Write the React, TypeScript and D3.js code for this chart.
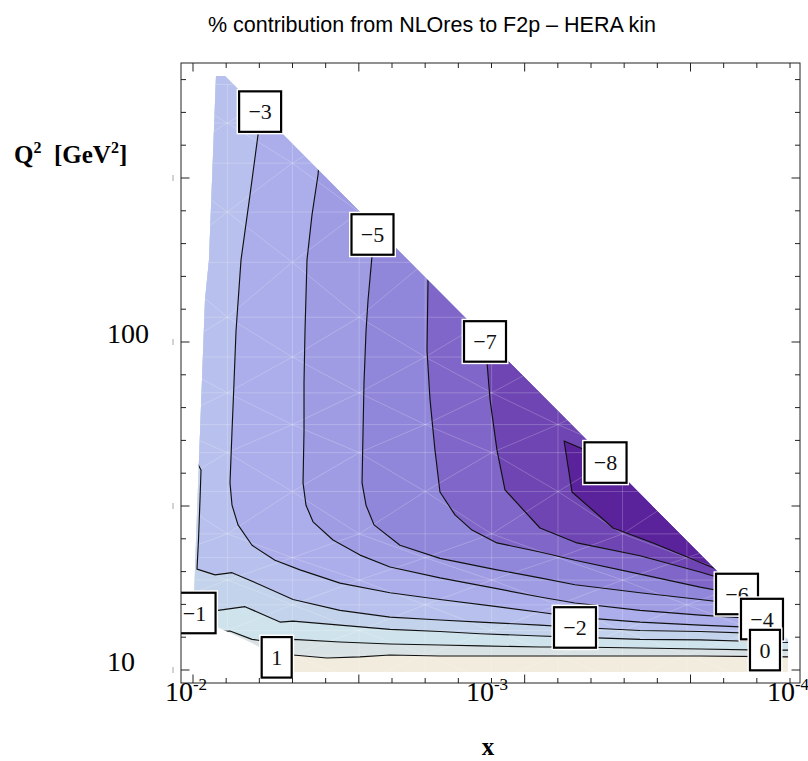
import React from 'react';
import * as d3 from 'd3';

// ---------- data ----------
// contour levels (% contribution) and the band colours (bandColors[0] = above 1, bandColors[i+1] = below contourLevels[i])
const contourLevels = [1, 0, -1, -2, -3, -4, -5, -6, -7, -8];
const contourOpensAtTop = [false, false, false, false, true, true, true, true, true, true];
const bandColors = ['#f2ecde', '#d8e1e3', '#cfe3ec', '#c3d3eb', '#b8c1ed', '#abaeea', '#9f9ce4', '#9086da', '#7f66c8', '#6e45b2', '#5b239b'];

// contour lines as [x, Q2] points
const contour1 = [[0.005853, 11.35], [0.0051, 10.96], [0.004477, 11.11], [0.003453, 10.88], [0.002682, 10.96], [0.002133, 11.11], [0.001455, 11.03], [0.001071, 11.03], [0.000677, 11.03], [0.000518, 11.03], [0.000315, 11.03], [0.000199, 11.03], [0.0000927, 10.96]];
const contour0 = [[0.008134, 13.1], [0.007252, 13.15], [0.006129, 12.4], [0.005764, 12.3], [0.004477, 12.4], [0.003126, 12.17], [0.002133, 12.0], [0.001455, 11.92], [0.001071, 11.84], [0.000677, 11.75], [0.000518, 11.75], [0.000315, 11.67], [0.000199, 11.59], [0.000121, 11.5], [0.0000927, 11.5]];
const contourM1 = [[0.01039, 15.8], [0.009407, 15.8], [0.007949, 15.2], [0.006466, 15.6], [0.004948, 14.0], [0.004477, 14.1], [0.003126, 13.7], [0.002133, 13.3], [0.001455, 13.1], [0.001071, 12.9], [0.000677, 12.7], [0.000518, 12.6], [0.000315, 12.4], [0.000199, 12.35], [0.0000927, 12.1]];
const contourM2 = [[0.01023, 50.2], [0.009053, 40.7], [0.009123, 33.0], [0.009229, 24.9], [0.009335, 20.3], [0.008134, 19.5], [0.007141, 19.8], [0.005764, 18.2], [0.004477, 16.4], [0.003126, 15.2], [0.002133, 14.5], [0.001455, 14.2], [0.001071, 14.0], [0.000677, 13.7], [0.000518, 13.5], [0.000315, 13.2], [0.000199, 13.1], [0.0000927, 12.8]];
const contourM3 = [[0.005853, 547], [0.005853, 428], [0.006223, 281], [0.006666, 178], [0.006926, 108], [0.007034, 75], [0.007141, 53.5], [0.007252, 37.2], [0.007141, 31.8], [0.006821, 27.7], [0.006129, 24.0], [0.00514, 21.6], [0.004245, 20.2], [0.003126, 18.4], [0.002133, 17.2], [0.001455, 16.4], [0.000941, 15.6], [0.000677, 15.0], [0.000518, 14.5], [0.000315, 14.0], [0.000199, 13.7], [0.0000927, 13.3]];
const contourM4 = [[0.003671, 351], [0.003699, 323], [0.003873, 244], [0.004024, 178], [0.004086, 108], [0.004117, 75], [0.004117, 53.5], [0.004148, 37.2], [0.004055, 31.8], [0.003843, 28.3], [0.003298, 24.9], [0.002682, 22.4], [0.002133, 20.6], [0.001455, 19.1], [0.000941, 17.7], [0.000677, 16.7], [0.000518, 16.0], [0.000315, 15.2], [0.000199, 14.7], [0.000124, 14.3], [0.0000927, 14.1]];
const contourM5 = [[0.002447, 239], [0.002447, 183], [0.002523, 134], [0.002562, 108], [0.002602, 75], [0.002621, 53.5], [0.002641, 37.2], [0.002562, 31.8], [0.00241, 27.7], [0.001976, 24.0], [0.001455, 21.9], [0.000941, 20.2], [0.000677, 19.1], [0.000518, 18.2], [0.000315, 17.2], [0.000199, 16.4], [0.000126, 15.6]];
const contourM6 = [[0.001595, 163.5], [0.001595, 151.3], [0.001607, 94.5], [0.00157, 66.6], [0.001512, 46.9], [0.001455, 34.9], [0.001297, 29.7], [0.001139, 26.7], [0.000941, 24.4], [0.000677, 22.9], [0.000518, 21.6], [0.000315, 19.6], [0.000199, 17.9], [0.00015, 17.05], [0.000134, 16.6]];
const contourM7 = [[0.001015, 109], [0.001015, 86.3], [0.000992, 66.6], [0.000941, 46.9], [0.000885, 35.4], [0.000677, 27.1], [0.00051, 24.4], [0.000315, 22.3], [0.000199, 19.9], [0.000147, 18.3]];
const contourM8 = [[0.000367, 42.2], [0.000563, 49.9], [0.00053, 34.9], [0.000387, 27.1], [0.000285, 24.4], [0.00018, 20.5], [0.000164, 19.6]];

// kinematic region covered by the data
const regionX = [0.008072, 0.007534, 0.0001775, 0.0001015, 0.0001015, 0.004511, 0.00572, 0.006129, 0.008011, 0.009552, 0.009407, 0.008782, 0.008518];
const regionQ2 = [647, 647, 20.3, 12.35, 9.86, 9.86, 11.67, 12.09, 13.52, 16.4, 24.9, 134.3, 177.8];

// sampling mesh (faint triangulation)
const meshX = [0.0122, 0.0074, 0.0045, 0.0027, 0.00163, 0.00098, 0.00059, 0.00036, 0.00022, 0.00013, 0.00008];
const meshQ2 = [610, 465, 351, 249, 175, 119, 90, 70, 56, 46, 35, 26, 22, 18.8, 15.8, 13.2, 11.1, 9.2];

// contour labels
const contourLabelLevels = [-3, -5, -7, -8, -6, -4, 0, -2, -1, 1];
const contourLabelX = [0.00576, 0.002438, 0.001031, 0.00041, 0.00015, 0.0001239, 0.0001211, 0.000518, 0.00951, 0.005074];
const contourLabelQ2 = [504, 212.7, 100.4, 42.9, 17.05, 14.3, 11.5, 13.48, 14.92, 10.93];

// axis tick labels
const xTickLabelValues = [1e-2, 1e-3, 1e-4];
const xTickLabelExps = ['-2', '-3', '-4'];
const yTickLabelValues = [10, 100];
const yTickLabelTexts = ['10', '100'];

const SERIF = '"Liberation Serif", "Times New Roman", serif';
const SANS = '"Liberation Sans", Arial, Helvetica, sans-serif';

export default function App() {
  const W = 808, H = 761;
  const FL = 181, FR = 800, FT = 63, FB = 683;
  const x = d3.scaleLog().domain([1e-2, 1e-4]).range([188, 790]);
  const y = d3.scaleLog().domain([10, 100]).range([670, 342]);
  const lineGen = d3.line();
  const toPx = (pts: number[][]) => pts.map(([a, b]) => [x(a), y(b)] as [number, number]);

  const contours = [contour1, contour0, contourM1, contourM2, contourM3, contourM4, contourM5, contourM6, contourM7, contourM8];

  const regionPath = lineGen(regionX.map((v, i) => [x(v), y(regionQ2[i])] as [number, number])) + 'Z';

  const fillPaths = contours.map((c, i) => {
    const p = toPx(c);
    const s = p[0], e = p[p.length - 1];
    const closure: [number, number][] = contourOpensAtTop[i]
      ? [[FR + 20, e[1]], [FR + 20, FT - 20], [s[0], FT - 20]]
      : [[FR + 20, e[1]], [FR + 20, FT - 20], [FL - 20, FT - 20], [FL - 20, s[1]]];
    return lineGen([...p, ...closure]) + 'Z';
  });
  const linePaths = contours.map((c) => lineGen(toPx(c)) as string);

  // mesh
  const meshSegs: string[] = [];
  const qMin = meshQ2[meshQ2.length - 1], qMax = meshQ2[0];
  const xMin = meshX[meshX.length - 1], xMax = meshX[0];
  meshX.forEach((v) => meshSegs.push(lineGen([[x(v), y(qMin)], [x(v), y(qMax)]]) as string));
  meshQ2.forEach((q) => meshSegs.push(lineGen([[x(xMax), y(q)], [x(xMin), y(q)]]) as string));
  for (let i = 0; i < meshX.length - 1; i++) {
    for (let j = 0; j < meshQ2.length - 1; j++) {
      const seg: [number, number][] = (i + j) % 2 === 0
        ? [[x(meshX[i]), y(meshQ2[j])], [x(meshX[i + 1]), y(meshQ2[j + 1])]]
        : [[x(meshX[i]), y(meshQ2[j + 1])], [x(meshX[i + 1]), y(meshQ2[j])]];
      meshSegs.push(lineGen(seg) as string);
    }
  }

  // frame ticks
  const yTickSteps = d3.range(10, 29);
  const xTickSteps = d3.range(0, 19);
  const xTickScale = d3.scaleLinear().domain([0, 18]).range([193, 790]);
  let tickPath = '';
  yTickSteps.forEach((k) => {
    const py = y(Math.pow(10, k / 10));
    const len = k % 5 === 0 ? 8.5 : 5;
    tickPath += `M${FL},${py}h${len}M${FR},${py}h${-len}`;
  });
  xTickSteps.forEach((k) => {
    const px = xTickScale(k);
    const len = k % 5 === 0 ? 8.5 : 5;
    tickPath += `M${px},${FB}v${-len}M${px},${FT}v${len}`;
  });

  const fmt = (v: number) => (v < 0 ? '\u2212' + Math.abs(v) : String(v));

  return (
    <svg width={W} height={H} style={{ position: 'absolute', left: 0, top: 0, background: '#fff' }}>
      <defs>
        <clipPath id="region"><path d={regionPath} /></clipPath>
        <clipPath id="frame"><rect x={FL} y={FT} width={FR - FL} height={FB - FT} /></clipPath>
      </defs>

      <text x={432} y={32} textAnchor="middle" fontFamily={SANS} fontSize={21.5} fill="#000">
        % contribution from NLOres to F2p – HERA kin
      </text>

      <g clipPath="url(#region)">
        <path d={regionPath} fill={bandColors[0]} />
        {fillPaths.map((d, i) => (
          <path key={'f' + i} d={d} fill={bandColors[i + 1]} />
        ))}
        {meshSegs.map((d, i) => (
          <path key={'m' + i} d={d} fill="none" stroke="#fff" strokeOpacity={0.27} strokeWidth={0.8} />
        ))}
        {linePaths.map((d, i) => (
          <path key={'l' + i} d={d} fill="none" stroke="#111" strokeWidth={1.15} strokeLinejoin="round" />
        ))}
      </g>

      <g clipPath="url(#frame)">
        {contourLabelLevels.map((lv, i) => {
          const cx = x(contourLabelX[i]);
          const cy = y(contourLabelQ2[i]);
          const t = fmt(lv);
          const w = t.length === 1 ? 30 : 42;
          const h = 40.5;
          return (
            <g key={'lab' + i}>
              <rect x={cx - w / 2 - 2.5} y={cy - h / 2 - 2.5} width={w + 5} height={h + 5} fill="#fff" />
              <rect x={cx - w / 2} y={cy - h / 2} width={w} height={h} fill="#fff" stroke="#000" strokeWidth={2.2} />
              <text x={cx} y={cy} dy="0.35em" textAnchor="middle" fontFamily={SERIF} fontSize={22} fill="#111">{t}</text>
            </g>
          );
        })}
      </g>

      <rect x={FL} y={FT} width={FR - FL} height={FB - FT} fill="none" stroke="#222" strokeWidth={1} />
      <path d={tickPath} stroke="#222" strokeWidth={1} fill="none" />

      {yTickSteps.filter((k) => k % 5 === 0).map((k) => (
        <rect key={'art' + k} x={172.5} y={y(Math.pow(10, k / 10)) - 3} width={1} height={6} fill="#a8a8a8" />
      ))}

      {yTickLabelValues.map((v, i) => (
        <text key={'yl' + i} x={107} y={y(v) + 1} fontFamily={SERIF} fontSize={28} fill="#000">{yTickLabelTexts[i]}</text>
      ))}
      {xTickLabelValues.map((v, i) => (
        <text key={'xl' + i} x={x(v) - 2} y={701} textAnchor="middle" fontFamily={SERIF} fontSize={28} fill="#000">
          10<tspan dy={-11} fontSize={17}>{xTickLabelExps[i]}</tspan>
        </text>
      ))}

      <text x={14} y={163} fontFamily={SERIF} fontWeight="bold" fontSize={25} fill="#000">
        Q<tspan dy={-10} fontSize={16}>2</tspan><tspan dy={10}>{'\u00a0 [GeV'}</tspan><tspan dy={-10} fontSize={16}>2</tspan><tspan dy={10}>]</tspan>
      </text>
      <text x={488} y={755} textAnchor="middle" fontFamily={SERIF} fontWeight="bold" fontSize={25} fill="#000">x</text>
    </svg>
  );
}
